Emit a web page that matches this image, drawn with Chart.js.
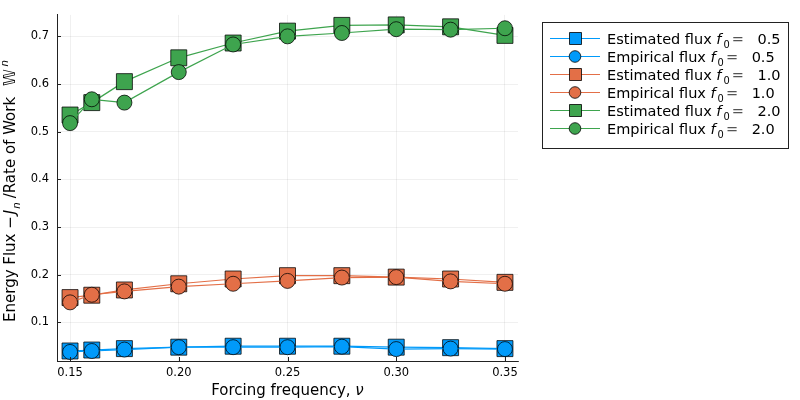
<!DOCTYPE html>
<html>
<head>
<meta charset="utf-8">
<script src="https://cdn.jsdelivr.net/npm/chart.js@4.4.0/dist/chart.umd.min.js"></script>
<style>
  html, body { margin: 0; padding: 0; background: #fff; }
</style>
</head>
<body>
<canvas id="fluxChart" width="800" height="400"></canvas>
<script>
// forcing frequencies (x) and the six flux series
const freqs = [0.15, 0.16, 0.175, 0.20, 0.225, 0.25, 0.275, 0.30, 0.325, 0.35];
const estFlux05 = [0.040, 0.042, 0.045, 0.048, 0.050, 0.050, 0.050, 0.048, 0.047, 0.045];
const empFlux05 = [0.038, 0.040, 0.043, 0.048, 0.048, 0.048, 0.049, 0.044, 0.045, 0.044];
const estFlux10 = [0.152, 0.157, 0.168, 0.181, 0.191, 0.198, 0.198, 0.195, 0.191, 0.184];
const empFlux10 = [0.142, 0.158, 0.165, 0.175, 0.181, 0.187, 0.194, 0.195, 0.186, 0.181];
const estFlux20 = [0.535, 0.561, 0.605, 0.655, 0.686, 0.711, 0.723, 0.724, 0.720, 0.702];
const empFlux20 = [0.518, 0.568, 0.561, 0.625, 0.683, 0.700, 0.707, 0.715, 0.714, 0.717];
const forcingLabels = ['0.5', '1.0', '2.0'];
const xTicks = [0.15, 0.20, 0.25, 0.30, 0.35];
const yTicks = [0.1, 0.2, 0.3, 0.4, 0.5, 0.6, 0.7];

const FONT = "'DejaVu Sans', sans-serif";
const colors = ['#009AFA', '#E36F47', '#3EA44E'];

function pts(ys) {
    return freqs.map((x, i) => ({ x: x, y: ys[i] }));
}

function series(kind, ys, k, idx) {
    const est = kind === 'Estimated';
    return {
        label: kind + ' flux f0 = ' + forcingLabels[k],
        kind: kind,
        forcing: forcingLabels[k],
        data: pts(ys),
        borderColor: colors[k],
        backgroundColor: colors[k],
        borderWidth: 1.2,
        pointStyle: est ? 'rect' : 'circle',
        pointRadius: est ? 11.3 : 7.5,
        pointBackgroundColor: colors[k],
        pointBorderColor: 'rgba(0,0,0,0.75)',
        pointBorderWidth: 1,
        tension: 0,
        order: 5 - idx
    };
}

// draws a run of text pieces (italic / sub / sup), returns its width
function richText(ctx, parts, x, y, size, draw) {
    let w = 0;
    parts.forEach(p => {
        const s = (p.sub || p.sup) ? size * 0.68 : size;
        ctx.font = (p.it ? 'italic ' : '') + s + 'px ' + FONT;
        const dy = p.sub ? size * 0.3 : (p.sup ? -size * 0.45 : 0);
        if (draw) {
            ctx.fillStyle = p.color || '#000';
            ctx.fillText(p.t, x + w, y + dy);
        }
        w += ctx.measureText(p.t).width + (p.gap || 0);
    });
    return w;
}

const decorations = {
    id: 'decorations',
    afterDraw(chart) {
        const ctx = chart.ctx;
        const area = chart.chartArea;
        const xs = chart.scales.x, ys = chart.scales.y;
        ctx.save();

        // inward tick marks
        ctx.strokeStyle = '#222';
        ctx.lineWidth = 1;
        ctx.beginPath();
        xTicks.forEach(v => {
            const px = Math.round(xs.getPixelForValue(v)) + 0.5;
            ctx.moveTo(px, area.bottom);
            ctx.lineTo(px, area.bottom - 4);
        });
        yTicks.forEach(v => {
            const py = Math.round(ys.getPixelForValue(v)) + 0.5;
            ctx.moveTo(area.left, py);
            ctx.lineTo(area.left + 4, py);
        });
        ctx.stroke();

        ctx.textBaseline = 'alphabetic';
        ctx.textAlign = 'left';

        // x axis title
        const xParts = [{ t: 'Forcing frequency, ' }, { t: 'ν', it: true }];
        let w = richText(ctx, xParts, 0, 0, 15, false);
        richText(ctx, xParts, (area.left + area.right) / 2 - w / 2, 395, 15, true);

        // y axis title
        const yParts = [
            { t: 'Energy Flux −', gap: 2 }, { t: 'J', it: true, gap: 1 }, { t: 'n', it: true, sub: true, gap: 4 },
            { t: '/Rate of Work ', gap: 6 }, { t: '𝕎', gap: 3 }, { t: 'n', it: true, sup: true }
        ];
        w = richText(ctx, yParts, 0, 0, 15, false);
        ctx.translate(15, 191);
        ctx.rotate(-Math.PI / 2);
        richText(ctx, yParts, -w / 2, 0, 15, true);
        ctx.setTransform(1, 0, 0, 1, 0, 0);
        ctx.scale(chart.currentDevicePixelRatio, chart.currentDevicePixelRatio);

        // legend box
        ctx.fillStyle = '#fff';
        ctx.fillRect(542.5, 22.5, 246, 126);
        ctx.strokeStyle = '#222';
        ctx.strokeRect(542.5, 22.5, 246, 126);
        chart.data.datasets.forEach((ds, i) => {
            const y = 38.5 + i * 18;
            ctx.strokeStyle = ds.borderColor;
            ctx.lineWidth = 1.2;
            ctx.beginPath();
            ctx.moveTo(550, y);
            ctx.lineTo(600, y);
            ctx.stroke();
            ctx.fillStyle = ds.borderColor;
            ctx.strokeStyle = 'rgba(0,0,0,0.8)';
            ctx.lineWidth = 1;
            ctx.beginPath();
            if (ds.pointStyle === 'rect') {
                ctx.rect(569.5, y - 6, 12, 12);
            } else {
                ctx.arc(575, y, 5.8, 0, Math.PI * 2);
            }
            ctx.fill();
            ctx.stroke();
            const parts = [
                { t: ds.kind + ' flux ' }, { t: 'f', it: true, gap: 2 },
                { t: '0', sub: true, gap: 2 }, { t: '=', color: '#555', gap: 9 }, { t: ' ' + ds.forcing }
            ];
            richText(ctx, parts, 607, y + 5, 14.5, true);
        });
        ctx.restore();
    }
};

new Chart('fluxChart', {
    type: 'line',
    data: {
        datasets: [
            series('Estimated', estFlux05, 0, 0),
            series('Empirical', empFlux05, 0, 1),
            series('Estimated', estFlux10, 1, 2),
            series('Empirical', empFlux10, 1, 3),
            series('Estimated', estFlux20, 2, 4),
            series('Empirical', empFlux20, 2, 5)
        ]
    },
    options: {
        responsive: false,
        animation: false,
        layout: { padding: { top: 12, right: 282, left: 0, bottom: 0 } },
        plugins: { legend: { display: false }, tooltip: { enabled: false } },
        scales: {
            x: {
                type: 'linear',
                min: 0.144,
                max: 0.356,
                afterFit: s => { s.height = 39; },
                afterBuildTicks: s => { s.ticks = xTicks.map(v => ({ value: v })); },
                grid: { color: 'rgba(0,0,0,0.1)', lineWidth: 0.6, drawTicks: false },
                border: { display: true, color: '#222', width: 1 },
                ticks: {
                    padding: 5,
                    color: '#000',
                    font: { family: FONT, size: 11.5 },
                    maxRotation: 0,
                    callback: v => v.toFixed(2)
                }
            },
            y: {
                min: 0.019,
                max: 0.745,
                afterFit: s => { s.width = 57; },
                afterBuildTicks: s => { s.ticks = yTicks.map(v => ({ value: v })); },
                grid: { color: 'rgba(0,0,0,0.1)', lineWidth: 0.6, drawTicks: false },
                border: { display: true, color: '#222', width: 1 },
                ticks: {
                    padding: 8,
                    color: '#000',
                    font: { family: FONT, size: 11.5 },
                    callback: v => v.toFixed(1)
                }
            }
        }
    },
    plugins: [decorations]
});
</script>
</body>
</html>
